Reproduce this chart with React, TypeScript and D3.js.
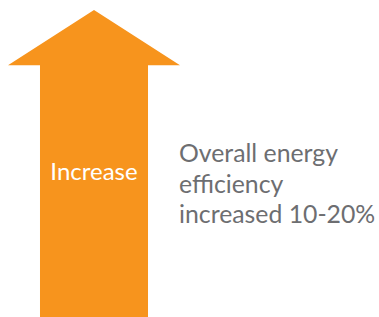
import * as d3 from "d3";

const width = 379;
const height = 317;

// arrow outline in unit space: x 0..1 across head, y 0 (tip) .. 1 (bottom)
const arrowX = [0.5, 1, 0.814, 0.814, 0.186, 0.186, 0];
const arrowY = [0, 0.179, 0.179, 1, 1, 0.179, 0.179];

const arrowLabel = "Increase";
const noteLines = ["Overall energy", "efficiency", "increased 10-20%"];

const orange = "#f7941d";
const gray = "#6d6e71";

function App() {
  const x = d3.scaleLinear().domain([0, 1]).range([8, 180]);
  const y = d3.scaleLinear().domain([0, 1]).range([10, 318]);

  const pts: [number, number][] = arrowX.map((v, i) => [x(v), y(arrowY[i])]);
  const path = d3.line()(pts) + "Z";

  return (
    <svg
      width={width}
      height={height}
      style={{ position: "absolute", left: 0, top: 0, background: "#fff" }}
    >
      <path d={path} fill={orange} />
      <text
        x={x(0.5)}
        y={180}
        textAnchor="middle"
        fill="#fff"
        fontFamily="Lato, 'Open Sans', sans-serif"
        fontSize={24}
      >
        {arrowLabel}
      </text>
      {noteLines.map((line, i) => (
        <text
          key={line}
          x={179}
          y={162 + i * 30.5}
          fill={gray}
          fontFamily="Lato, 'Open Sans', sans-serif"
          fontSize={24.8}
        >
          {line}
        </text>
      ))}
    </svg>
  );
}

export default App;
